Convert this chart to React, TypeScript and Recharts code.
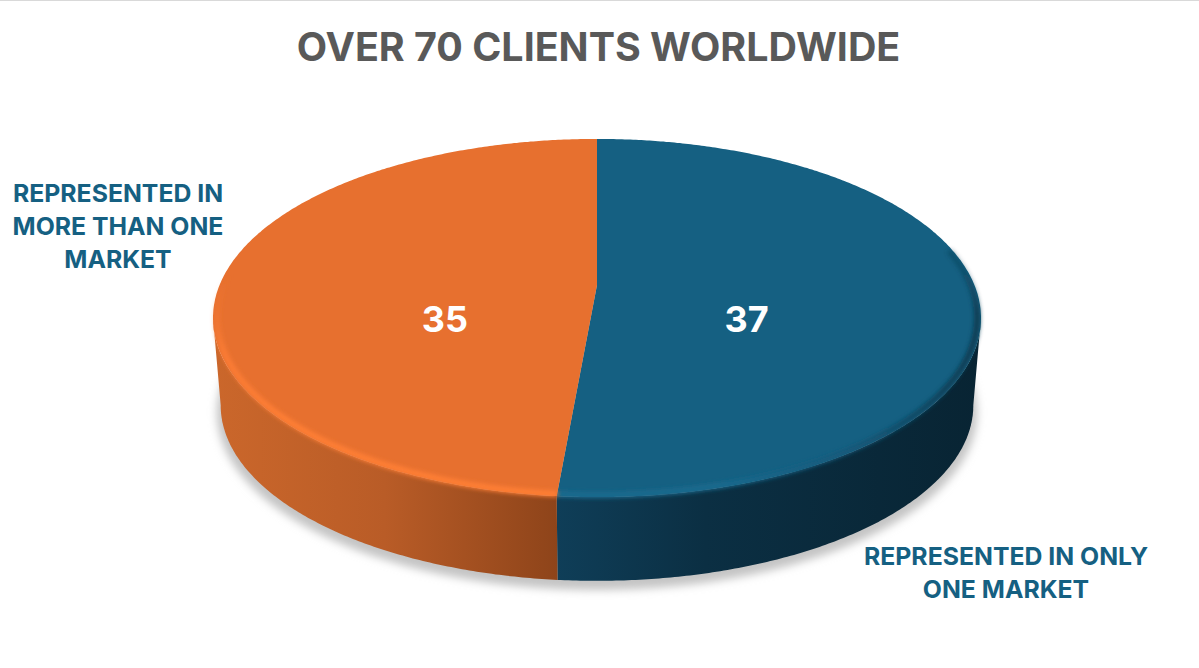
import React from 'react'
import { PieChart, Pie, Cell } from 'recharts'

const title = 'OVER 70 CLIENTS WORLDWIDE'
const categories = ['REPRESENTED IN ONLY ONE MARKET', 'REPRESENTED IN MORE THAN ONE MARKET']
const clients = [37, 35]
const nameLines = [
  ['REPRESENTED IN ONLY', 'ONE MARKET'],
  ['REPRESENTED IN', 'MORE THAN ONE', 'MARKET'],
]

const colors = ['#156082', '#E7702F']
const wallFills = ['url(#wallBlue)', 'url(#wallOrange)']
const bevelStrokes = ['url(#bevelBlue)', 'url(#bevelOrange)']
const namePlaces = [
  { x: 1006, y: 556 },
  { x: 118, y: 193 },
]

const FONT = 'Inter, "Open Sans", sans-serif'
const WIDTH = 1199
const HEIGHT = 668
const CX = 597
const CY = 285
const RADIUS = 377.4

// the 3d look: a perspective projection of the flat pie, back edge further away
const TILT = 0.4584
const PERSPECTIVE = 0.1843
const BOTTOM_SCALE = 0.98
const BOTTOM_SHIFT = 88
const WALL_FROM = -10.6
const WALL_TO = -169.4

type Pt = [number, number]

const project = (angle: number, scale = 1, shift = 0): Pt => {
  const rad = (angle * Math.PI) / 180
  const u = Math.cos(rad) * scale
  const v = -Math.sin(rad) * scale
  const w = 1 - (PERSPECTIVE * v) / scale
  return [CX + (RADIUS * u) / w, CY + shift + (RADIUS * TILT * v) / w]
}

// walks from angle a to angle b (a > b, clockwise), one point per half degree
const arc = (a: number, b: number, scale = 1, shift = 0): Pt[] => {
  const pts: Pt[] = []
  for (let t = a; t > b; t -= 0.5) pts.push(project(t, scale, shift))
  pts.push(project(b, scale, shift))
  return pts
}

const toPath = (pts: Pt[], close = true) =>
  'M' + pts.map((p) => `${p[0].toFixed(1)},${p[1].toFixed(1)}`).join('L') + (close ? 'Z' : '')

const SliceShape = (props: any) => {
  const { startAngle, endAngle, fill, index } = props
  const i = index ?? (startAngle === 90 ? 0 : 1)
  const wallStart = Math.min(startAngle, WALL_FROM)
  const wallEnd = Math.max(endAngle, WALL_TO)
  const wall = [...arc(wallStart, wallEnd), ...arc(wallStart, wallEnd, BOTTOM_SCALE, BOTTOM_SHIFT).reverse()]
  const top: Pt[] = [[CX, CY], ...arc(startAngle, endAngle)]
  const bevel = i === 0 ? arc(12, endAngle, 0.99) : arc(startAngle, -200, 0.99)
  return (
    <g>
      {i === 0 && (
        <path
          d={toPath(arc(90, -270, BOTTOM_SCALE + 0.01, BOTTOM_SHIFT + 7))}
          fill="#c4c4c4"
          filter="url(#softShadow)"
        />
      )}
      <path d={toPath(wall)} fill={wallFills[i]} />
      <path d={toPath(top)} fill={fill} />
      <path
        d={toPath(bevel, false)}
        fill="none"
        stroke={bevelStrokes[i]}
        strokeWidth={6}
        filter="url(#softEdge)"
      />
    </g>
  )
}

const SliceLabel = (props: any) => {
  const { midAngle, value, index } = props
  const [x] = project(midAngle, 0.4)
  const place = namePlaces[index]
  return (
    <g>
      <text
        x={x - 2.5}
        y={CY + 34}
        textAnchor="middle"
        dominantBaseline="central"
        fill="#fff"
        fontFamily={FONT}
        fontWeight={700}
        fontSize={36}
      >
        {value}
      </text>
      <text textAnchor="middle" fill={colors[0]} fontFamily={FONT} fontWeight={700} fontSize={24.8}>
        {nameLines[index].map((line, n) => (
          <tspan key={line} x={place.x} y={place.y + n * 33} dominantBaseline="central">
            {line}
          </tspan>
        ))}
      </text>
    </g>
  )
}

const data = categories.map((name, i) => ({ name, value: clients[i] }))

export default function App() {
  return (
    <div style={{ position: 'absolute', left: 0, top: 0, width: WIDTH, height: HEIGHT, background: '#fff' }}>
      <PieChart width={WIDTH} height={HEIGHT} margin={{ top: 0, right: 0, bottom: 0, left: 0 }}>
        <defs>
          <linearGradient id="wallOrange" gradientUnits="userSpaceOnUse" x1="213" x2="557" y1="0" y2="0">
            <stop offset="0" stopColor="#CB672B" />
            <stop offset="0.5" stopColor="#B95C27" />
            <stop offset="1" stopColor="#8E441A" />
          </linearGradient>
          <linearGradient id="wallBlue" gradientUnits="userSpaceOnUse" x1="557" x2="981" y1="0" y2="0">
            <stop offset="0" stopColor="#0F3E58" />
            <stop offset="0.35" stopColor="#0B2F43" />
            <stop offset="1" stopColor="#082433" />
          </linearGradient>
          <linearGradient id="bevelOrange" gradientUnits="userSpaceOnUse" x1="213" y1="285" x2="300" y2="420">
            <stop offset="0" stopColor="#F77A33" stopOpacity="0" />
            <stop offset="0.4" stopColor="#FB7C34" />
            <stop offset="1" stopColor="#FF7F36" />
          </linearGradient>
          <linearGradient id="bevelBlue" gradientUnits="userSpaceOnUse" x1="720" y1="490" x2="985" y2="270">
            <stop offset="0" stopColor="#1A6A8E" />
            <stop offset="0.35" stopColor="#14597A" />
            <stop offset="0.7" stopColor="#0E4058" />
            <stop offset="0.9" stopColor="#0D3C52" />
            <stop offset="1" stopColor="#0D3C52" stopOpacity="0" />
          </linearGradient>
          <filter id="softShadow" x="-10%" y="-10%" width="120%" height="130%">
            <feGaussianBlur stdDeviation="4" />
          </filter>
          <filter id="softEdge" x="-10%" y="-10%" width="120%" height="130%">
            <feGaussianBlur stdDeviation="2.2" />
          </filter>
        </defs>
        <line x1={0} x2={WIDTH} y1={0.5} y2={0.5} stroke="#d9d9d9" />
        <text
          x={598.5}
          y={47}
          textAnchor="middle"
          dominantBaseline="central"
          fill="#595959"
          fontFamily={FONT}
          fontWeight={700}
          fontSize={39.4}
        >
          {title}
        </text>
        <Pie
          data={data}
          dataKey="value"
          nameKey="name"
          cx={CX}
          cy={CY}
          outerRadius={RADIUS}
          startAngle={90}
          endAngle={-270}
          stroke="none"
          shape={SliceShape}
          label={SliceLabel}
          labelLine={false}
          isAnimationActive={false}
        >
          {data.map((d, i) => (
            <Cell key={d.name} fill={colors[i]} />
          ))}
        </Pie>
      </PieChart>
    </div>
  )
}
